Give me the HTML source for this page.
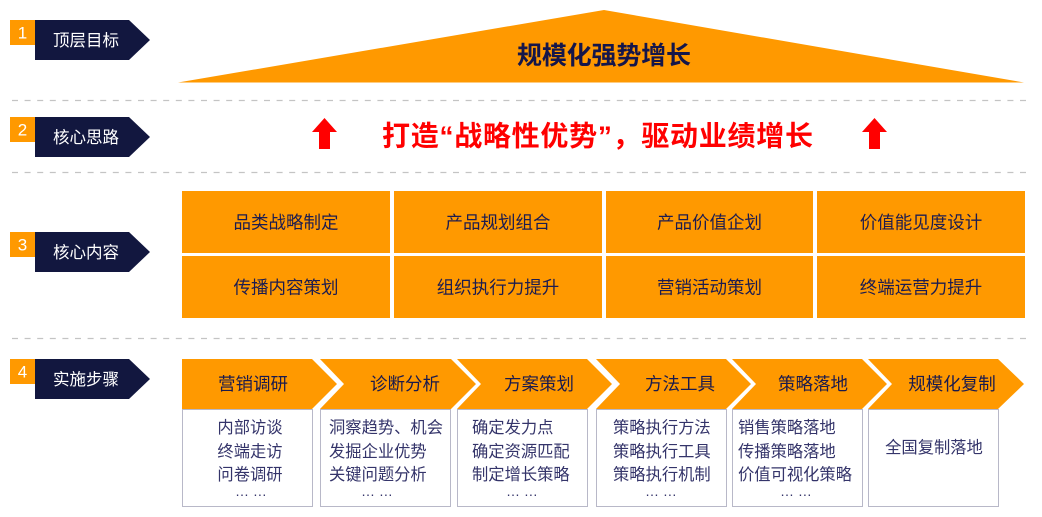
<!DOCTYPE html>
<html><head><meta charset="utf-8"><style>
html,body{margin:0;padding:0;background:#fff;}
svg{display:block;}
text{font-family:"Liberation Sans","Noto Sans CJK SC",sans-serif;}
</style></head><body>
<svg width="1042" height="517" viewBox="0 0 1042 517" xmlns="http://www.w3.org/2000/svg">
<!-- dashed separators -->
<g stroke="#c4c4c4" stroke-width="1.3" stroke-dasharray="6 6.6">
<line x1="12" y1="100.5" x2="1032" y2="100.5"/>
<line x1="12" y1="172.5" x2="1032" y2="172.5"/>
<line x1="12" y1="338.5" x2="1032" y2="338.5"/>
</g>

<!-- Left labels -->
<g>
<rect x="10" y="20" width="25" height="25" fill="#FF9900"/>
<polygon points="35,20 129,20 150,40 129,60 35,60" fill="#12173F"/>
<text x="22.5" y="33" fill="#fff" font-size="17" text-anchor="middle" dominant-baseline="central">1</text>
<text x="86" y="41" fill="#fff" font-size="16.5" text-anchor="middle" dominant-baseline="central">顶层目标</text>

<rect x="10" y="117" width="25" height="25" fill="#FF9900"/>
<polygon points="35,117 129,117 150,137 129,157 35,157" fill="#12173F"/>
<text x="22.5" y="130" fill="#fff" font-size="17" text-anchor="middle" dominant-baseline="central">2</text>
<text x="86" y="138" fill="#fff" font-size="16.5" text-anchor="middle" dominant-baseline="central">核心思路</text>

<rect x="10" y="232" width="25" height="25" fill="#FF9900"/>
<polygon points="35,232 129,232 150,252 129,272 35,272" fill="#12173F"/>
<text x="22.5" y="245" fill="#fff" font-size="17" text-anchor="middle" dominant-baseline="central">3</text>
<text x="86" y="253" fill="#fff" font-size="16.5" text-anchor="middle" dominant-baseline="central">核心内容</text>

<rect x="10" y="359" width="25" height="25" fill="#FF9900"/>
<polygon points="35,359 129,359 150,379 129,399 35,399" fill="#12173F"/>
<text x="22.5" y="372" fill="#fff" font-size="17" text-anchor="middle" dominant-baseline="central">4</text>
<text x="86" y="380" fill="#fff" font-size="16.5" text-anchor="middle" dominant-baseline="central">实施步骤</text>
</g>

<!-- Top triangle -->
<polygon points="178,82.5 604,10 1024,82.5" fill="#FF9900"/>
<text x="517" y="56" fill="#15164A" font-size="25" font-weight="bold" textLength="174" lengthAdjust="spacing" dominant-baseline="central">规模化强势增长</text>

<!-- Red arrows & slogan -->
<polygon points="324.5,118 337,132 330,132 330,149 319,149 319,132 312,132" fill="#FF0000"/>
<polygon points="874.5,118 887,132 880,132 880,149 869,149 869,132 862,132" fill="#FF0000"/>
<text x="382" y="136" fill="#FF0000" font-size="28" font-weight="bold" textLength="431" lengthAdjust="spacing" dominant-baseline="central">打造“战略性优势”，驱动业绩增长</text>

<!-- Core content grid -->
<g fill="#FF9900">
<rect x="182" y="191" width="208" height="62"/>
<rect x="394" y="191" width="208" height="62"/>
<rect x="606" y="191" width="207" height="62"/>
<rect x="817" y="191" width="208" height="62"/>
<rect x="182" y="256" width="208" height="62"/>
<rect x="394" y="256" width="208" height="62"/>
<rect x="606" y="256" width="207" height="62"/>
<rect x="817" y="256" width="208" height="62"/>
</g>
<g fill="#1C1C50" font-size="17.5" text-anchor="middle" dominant-baseline="central">
<text x="286" y="222.5">品类战略制定</text>
<text x="498" y="222.5">产品规划组合</text>
<text x="709.5" y="222.5">产品价值企划</text>
<text x="921" y="222.5">价值能见度设计</text>
<text x="286" y="287.5">传播内容策划</text>
<text x="498" y="287.5">组织执行力提升</text>
<text x="709.5" y="287.5">营销活动策划</text>
<text x="921" y="287.5">终端运营力提升</text>
</g>

<!-- Step chevrons -->
<g fill="#FF9900">
<polygon points="182,359 312,359 337,384 312,409 182,409"/>
<polygon points="320,359 451,359 476,384 451,409 320,409 344,384"/>
<polygon points="457,359 587,359 612,384 587,409 457,409 481,384"/>
<polygon points="596,359 726,359 751,384 726,409 596,409 620,384"/>
<polygon points="732,359 862,359 887,384 862,409 732,409 756,384"/>
<polygon points="868,359 998,359 1024,384 998,409 868,409 892,384"/>
</g>
<g fill="#1A1A4D" font-size="17.5" text-anchor="middle" dominant-baseline="central">
<text x="253" y="384">营销调研</text>
<text x="405" y="384">诊断分析</text>
<text x="539" y="384">方案策划</text>
<text x="680" y="384">方法工具</text>
<text x="813" y="384">策略落地</text>
<text x="952" y="384">规模化复制</text>
</g>

<!-- Description boxes -->
<g fill="#fff" stroke="#B8B8C8" stroke-width="1">
<rect x="182.5" y="409.5" width="130" height="97"/>
<rect x="320.5" y="409.5" width="130" height="97"/>
<rect x="457.5" y="409.5" width="130" height="97"/>
<rect x="596.5" y="409.5" width="130" height="97"/>
<rect x="732.5" y="409.5" width="130" height="97"/>
<rect x="868.5" y="409.5" width="130" height="97"/>
</g>
<g fill="#34346A" font-size="16.3" dominant-baseline="central">
<text x="250" y="428" text-anchor="middle">内部访谈</text>
<text x="250" y="452" text-anchor="middle">终端走访</text>
<text x="250" y="475" text-anchor="middle">问卷调研</text>

<text x="329" y="428">洞察趋势、机会</text>
<text x="329" y="452">发掘企业优势</text>
<text x="329" y="475">关键问题分析</text>

<text x="472" y="428">确定发力点</text>
<text x="472" y="452">确定资源匹配</text>
<text x="472" y="475">制定增长策略</text>

<text x="613" y="428">策略执行方法</text>
<text x="613" y="452">策略执行工具</text>
<text x="613" y="475">策略执行机制</text>

<text x="738" y="428">销售策略落地</text>
<text x="738" y="452">传播策略落地</text>
<text x="738" y="475">价值可视化策略</text>

<text x="934" y="448" text-anchor="middle">全国复制落地</text>
</g>
<g fill="#34346A" font-size="14" text-anchor="middle">
<text x="251" y="496">… …</text>
<text x="377" y="496">… …</text>
<text x="522" y="496">… …</text>
<text x="661" y="496">… …</text>
<text x="796" y="496">… …</text>
</g>
</svg>
</body></html>
